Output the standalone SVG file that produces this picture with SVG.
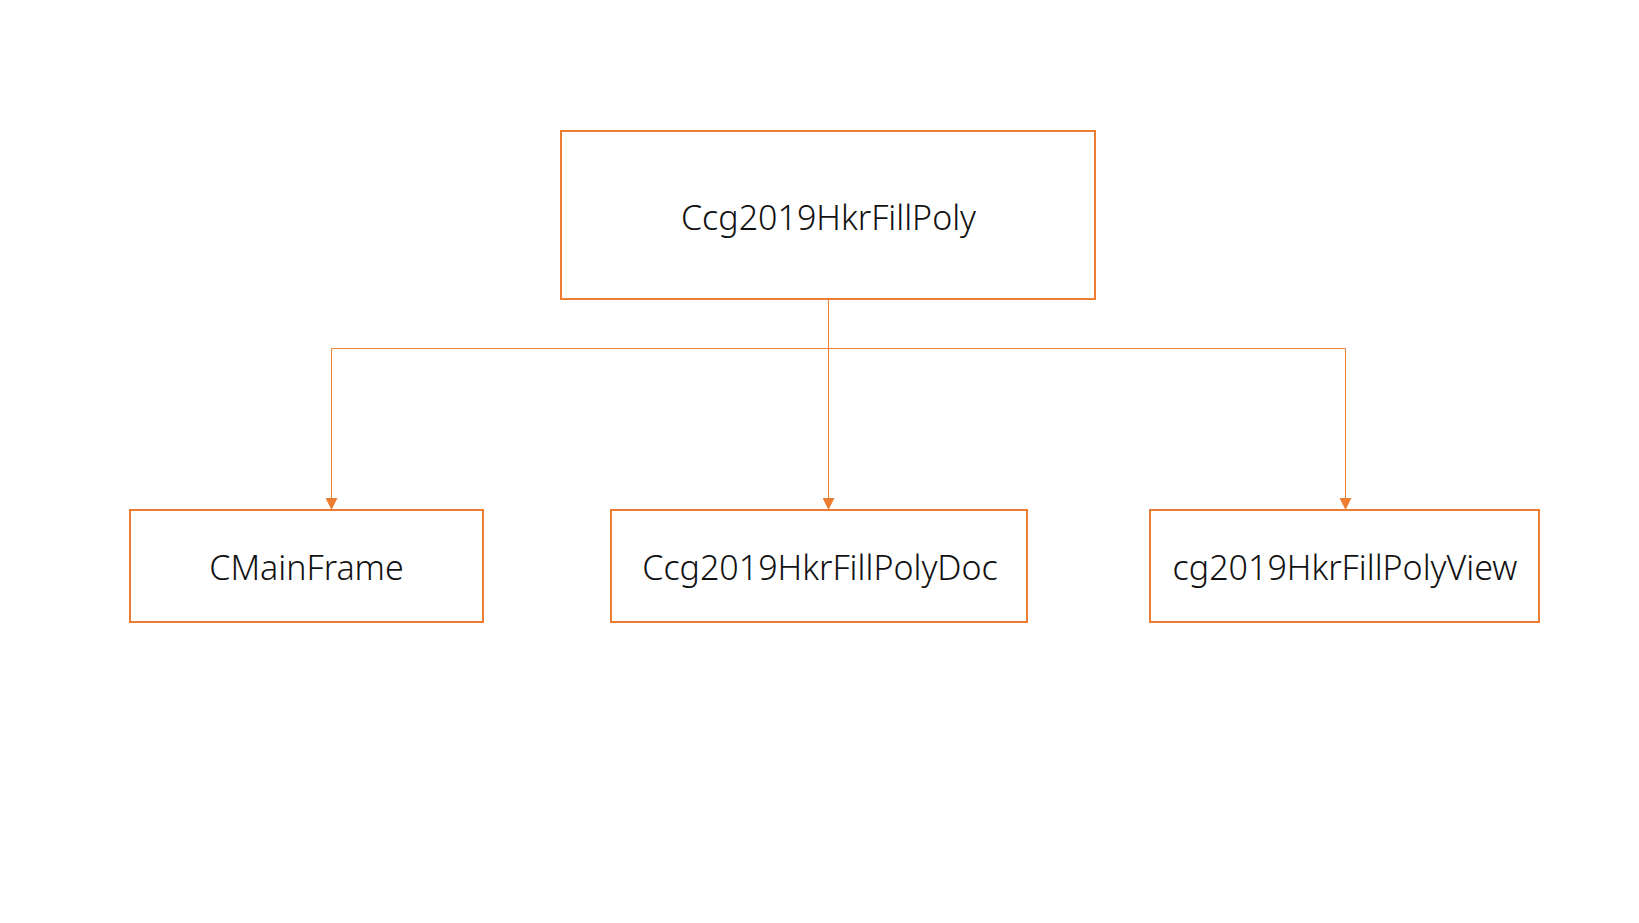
<svg xmlns="http://www.w3.org/2000/svg" width="1639" height="923" viewBox="0 0 1639 923">
<style>
.box{fill:#ffffff;stroke:#ED7D31;stroke-width:2}
.lbl{font-family:"Noto Sans","Liberation Sans",sans-serif;font-size:34px;font-weight:300;fill:#111111;text-anchor:middle;dominant-baseline:central}
.conn{fill:none;stroke:#ED7D31;stroke-width:1}
</style>
<defs>
<marker id="arr" viewBox="0 0 12 12" refX="12" refY="6" markerWidth="12" markerHeight="12" markerUnits="userSpaceOnUse" orient="auto">
<path d="M0,0 L12,6 L0,12 Z" fill="#ED7D31"/>
</marker>
</defs>
<rect width="1639" height="923" fill="#ffffff"/>
<g id="connectors">
<path class="conn" d="M828.5,299 V348.5"/>
<path class="conn" d="M331.5,348.5 H1345.5"/>
<path class="conn" d="M331.5,348.5 V510" marker-end="url(#arr)"/>
<path class="conn" d="M828.5,348.5 V510" marker-end="url(#arr)"/>
<path class="conn" d="M1345.5,348.5 V510" marker-end="url(#arr)"/>
</g>
<g id="node-root">
<rect class="box" x="561" y="131" width="534" height="168"/>
<text class="lbl" x="828.5" y="217">Ccg2019HkrFillPoly</text>
</g>
<g id="node-mainframe">
<rect class="box" x="130" y="510" width="353" height="112"/>
<text class="lbl" x="306.5" y="567">CMainFrame</text>
</g>
<g id="node-doc">
<rect class="box" x="611" y="510" width="416" height="112"/>
<text class="lbl" x="820" y="567">Ccg2019HkrFillPolyDoc</text>
</g>
<g id="node-view">
<rect class="box" x="1150" y="510" width="389" height="112"/>
<text class="lbl" x="1345" y="567">cg2019HkrFillPolyView</text>
</g>
</svg>
